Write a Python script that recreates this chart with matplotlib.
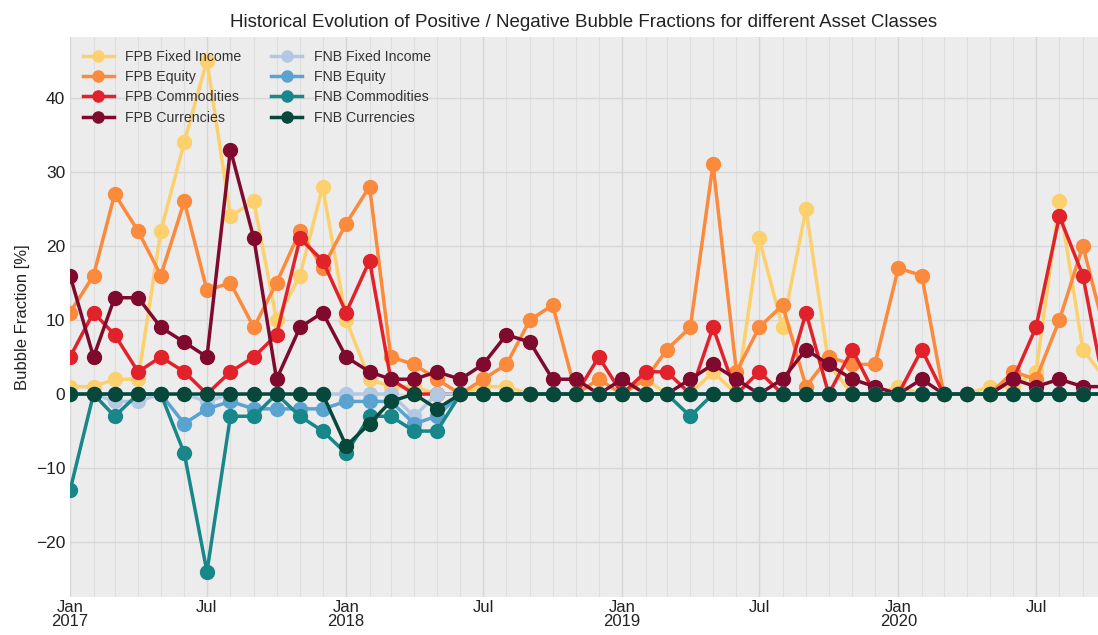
import matplotlib
matplotlib.use("Agg")
import matplotlib.pyplot as plt
import matplotlib.dates as mdates
import pandas as pd

months = pd.date_range("2017-01-01", periods=46, freq="MS")

# positive bubble fractions [%]
fpb_fixed_income = [1, 1, 2, 2, 22, 34, 45, 24, 26, 10, 16, 28, 10, 2, 1, 1, 0, 0, 1, 1, 0, 0, 0, 0,
                    0, 2, 0, 0, 3, 0, 21, 9, 25, 4, 0, 0, 1, 0, 0, 0, 1, 1, 3, 26, 6, 2]
fpb_equity = [11, 16, 27, 22, 16, 26, 14, 15, 9, 15, 22, 17, 23, 28, 5, 4, 2, 0, 2, 4, 10, 12, 0, 2,
              0, 2, 6, 9, 31, 3, 9, 12, 1, 5, 4, 4, 17, 16, 0, 0, 0, 3, 2, 10, 20, 8]
fpb_commodities = [5, 11, 8, 3, 5, 3, 0, 3, 5, 8, 21, 18, 11, 18, 2, 0, 0, 0, 0, 0, 0, 0, 0, 5,
                   0, 3, 3, 0, 9, 0, 3, 0, 11, 0, 6, 0, 0, 6, 0, 0, 0, 2, 9, 24, 16, 0]
fpb_currencies = [16, 5, 13, 13, 9, 7, 5, 33, 21, 2, 9, 11, 5, 3, 2, 2, 3, 2, 4, 8, 7, 2, 2, 0,
                  2, 0, 0, 2, 4, 2, 0, 2, 6, 4, 2, 1, 0, 2, 0, 0, 0, 2, 1, 2, 1, 1]

# negative bubble fractions [%]
fnb_fixed_income = [0, 0, -1, -1, 0, 0, -1, 0, 0, 0, 0, 0, 0, 0, 0, -3, 0, 0, 0, 0, 0, 0, 0, 0,
                    0, 0, 0, 0, 0, 0, 0, 0, 0, 0, 0, 0, 0, 0, 0, 0, 0, 0, 0, 0, 0, 0]
fnb_equity = [0, 0, 0, 0, 0, -4, -2, -1, -2, -2, -2, -2, -1, -1, -1, -4, -3, 0, 0, 0, 0, 0, 0, 0,
              0, 0, 0, 0, 0, 0, 0, 0, 0, 0, 0, 0, 0, 0, 0, 0, 0, 0, 0, 0, 0, 0]
fnb_commodities = [-13, 0, -3, 0, 0, -8, -24, -3, -3, 0, -3, -5, -8, -3, -3, -5, -5, 0, 0, 0, 0, 0, 0, 0,
                   0, 0, 0, -3, 0, 0, 0, 0, 0, 0, 0, 0, 0, 0, 0, 0, 0, 0, 0, 0, 0, 0]
fnb_currencies = [0, 0, 0, 0, 0, 0, 0, 0, 0, 0, 0, 0, -7, -4, -1, 0, -2, 0, 0, 0, 0, 0, 0, 0,
                  0, 0, 0, 0, 0, 0, 0, 0, 0, 0, 0, 0, 0, 0, 0, 0, 0, 0, 0, 0, 0, 0]

series = [
    ("FPB Fixed Income", fpb_fixed_income, "#fdd06e"),
    ("FPB Equity", fpb_equity, "#fb8a3c"),
    ("FPB Commodities", fpb_commodities, "#e2222a"),
    ("FPB Currencies", fpb_currencies, "#7f0a2e"),
    ("FNB Fixed Income", fnb_fixed_income, "#b2c8e3"),
    ("FNB Equity", fnb_equity, "#5aa3d1"),
    ("FNB Commodities", fnb_commodities, "#17878a"),
    ("FNB Currencies", fnb_currencies, "#07483a"),
]

plt.rcParams["font.family"] = ["Liberation Sans", "DejaVu Sans"]

fig = plt.figure(figsize=(10.98, 6.35), dpi=100)
ax = fig.add_axes([0.0638, 0.0598, 0.9362, 0.882])
ax.set_facecolor("#ececec")
for s in ax.spines.values():
    s.set_visible(False)

for name, vals, col in series:
    ax.plot(months, vals, "-o", color=col, lw=2.5, ms=10, label=name)

ax.set_xlim(pd.Timestamp("2017-01-01"), pd.Timestamp("2020-09-21"))
ax.set_ylim(-27.4, 48.2)
ax.set_yticks([-20, -10, 0, 10, 20, 30, 40])


def month_label(x, pos):
    d = mdates.num2date(x)
    if d.month == 1:
        return "Jan\n%d" % d.year
    return "Jul"


ax.xaxis.set_major_locator(mdates.MonthLocator(bymonth=[1, 7]))
ax.xaxis.set_major_formatter(plt.FuncFormatter(month_label))
ax.xaxis.set_minor_locator(mdates.MonthLocator())
ax.grid(which="major", color="#d6d6d6", lw=1.0)
ax.grid(which="minor", axis="x", color="#dedede", lw=0.8)
ax.set_axisbelow(True)
ax.tick_params(which="both", length=0, labelsize=12.5, colors="#222222")
ax.tick_params(axis="x", pad=2, labelsize=12)
for lbl in ax.get_xticklabels():
    lbl.set_linespacing(0.95)

ax.set_ylabel("Bubble Fraction [%]", fontsize=12, color="#222222")
ax.set_title("Historical Evolution of Positive / Negative Bubble Fractions for different Asset Classes",
             fontsize=13.5, color="#222222", pad=7)

ax.legend(loc="upper left", ncol=2, frameon=False, fontsize=10.2, handlelength=2.2,
          markerscale=0.8, labelspacing=0.45, columnspacing=2.1,
          bbox_to_anchor=(0.0, 1.0), labelcolor="#333333")

fig.savefig("out.png", dpi=100)
